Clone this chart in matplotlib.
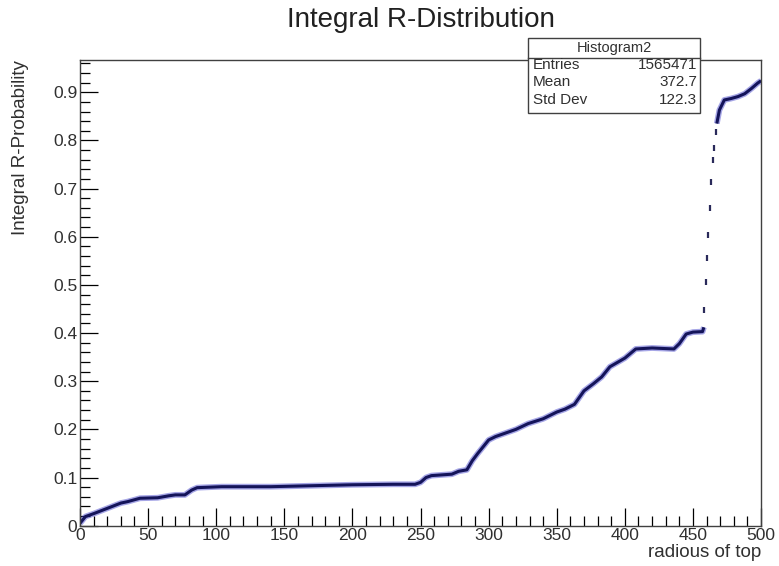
import matplotlib
matplotlib.use('Agg')
import matplotlib.pyplot as plt
from matplotlib.patches import Rectangle
from matplotlib.ticker import MultipleLocator

plt.rcParams['font.family'] = ['Liberation Sans', 'DejaVu Sans']

# cumulative probability vs radius (smooth part of the curve)
r_vals = [0, 2, 4, 10, 20, 30, 35, 44, 57, 65, 70, 77, 82, 86, 104, 140, 170, 200,
          230, 246, 250, 254, 258, 273, 278, 284, 288, 292, 300, 305, 312, 320, 329,
          340, 350, 356, 363, 366, 370, 377, 383, 389, 400, 408, 420, 436, 440, 445,
          450, 457, 458]
prob_vals = [0.005, 0.012, 0.019, 0.025, 0.036, 0.047, 0.050, 0.057, 0.058, 0.062,
             0.064, 0.064, 0.074, 0.079, 0.081, 0.081, 0.083, 0.085, 0.086, 0.086,
             0.090, 0.100, 0.104, 0.107, 0.113, 0.116, 0.135, 0.150, 0.178, 0.185,
             0.192, 0.200, 0.212, 0.222, 0.236, 0.242, 0.252, 0.264, 0.280, 0.295,
             0.309, 0.330, 0.348, 0.367, 0.369, 0.367, 0.378, 0.398, 0.402, 0.403,
             0.412]

# steep jump: isolated bins
jump_r = [458.0, 459.6, 460.4, 461.3, 462.3, 463.3, 464.5, 465.7, 466.9]
jump_prob = [0.448, 0.507, 0.555, 0.604, 0.659, 0.714, 0.759, 0.784, 0.818]

# upper plateau
top_r = [467.5, 469.4, 473, 478, 483, 488, 493, 497.5, 500]
top_prob = [0.835, 0.863, 0.884, 0.887, 0.891, 0.897, 0.908, 0.919, 0.924]

stats_title = 'Histogram2'
stats_names = ['Entries', 'Mean', 'Std Dev']
stats_values = ['1565471', '372.7', '122.3']

fig = plt.figure(figsize=(7.79, 5.66), dpi=100)
ax = fig.add_axes([0.1027, 0.0712, 0.8743, 0.8228])

for xs, ys in [(r_vals, prob_vals), (top_r, top_prob)]:
    ax.plot(xs, ys, color='#3a3ac8', lw=4.2, alpha=0.45, solid_capstyle='butt')
    ax.plot(xs, ys, color='#14145a', lw=2.2, solid_capstyle='butt')
ax.plot(jump_r, jump_prob, ls='none', marker='|', ms=5, mew=1.6, color='#2a2a5a')

ax.set_xlim(0, 500)
ax.set_ylim(0, 0.967)
ax.xaxis.set_major_locator(MultipleLocator(50))
ax.xaxis.set_minor_locator(MultipleLocator(10))
ax.yaxis.set_major_locator(MultipleLocator(0.1))
ax.yaxis.set_minor_locator(MultipleLocator(0.02))
ax.yaxis.set_major_formatter(plt.FuncFormatter(lambda v, p: '0' if abs(v) < 1e-9 else f'{v:.1f}'))
ax.tick_params(which='major', direction='in', length=13, width=0.9, labelsize=12.5,
               labelcolor='#303030', pad=2, top=False, right=False)
ax.tick_params(which='minor', direction='in', length=7, width=0.9, top=False, right=False)
for s in ax.spines.values():
    s.set_linewidth(1.0)
    s.set_color('#404040')

ax.text(1.0, -0.057, 'radious of top', transform=ax.transAxes, ha='right', va='center',
        fontsize=13.5, color='#303030')
ax.text(-0.088, 1.0, 'Integral R-Probability', transform=ax.transAxes, ha='center',
        va='top', rotation=90, fontsize=13.5, color='#303030')
fig.text(0.54, 0.965, 'Integral R-Distribution', ha='center', va='center',
         fontsize=20, color='#202020')

# statistics box
bx0, bx1 = 0.6778, 0.8986
by0, bsep, by1 = 0.8004, 0.8975, 0.9329
fig.patches.append(Rectangle((bx0, by0), bx1 - bx0, by1 - by0, transform=fig.transFigure,
                             facecolor='white', edgecolor='#404040', lw=1.0, zorder=5))
fig.lines.append(plt.Line2D([bx0, bx1], [bsep, bsep], transform=fig.transFigure,
                            color='#404040', lw=1.0, zorder=6))
fig.text((bx0 + bx1) / 2, 0.9152, stats_title, ha='center', va='center', fontsize=10.5,
         color='#303030', zorder=7)
for i, (name, val) in enumerate(zip(stats_names, stats_values)):
    yy = 0.8852 - i * 0.0305
    fig.text(0.684, yy, name, ha='left', va='center', fontsize=11, color='#303030', zorder=7)
    fig.text(0.8947, yy, val, ha='right', va='center', fontsize=11, color='#303030', zorder=7)

fig.savefig('out.png', dpi=100)
